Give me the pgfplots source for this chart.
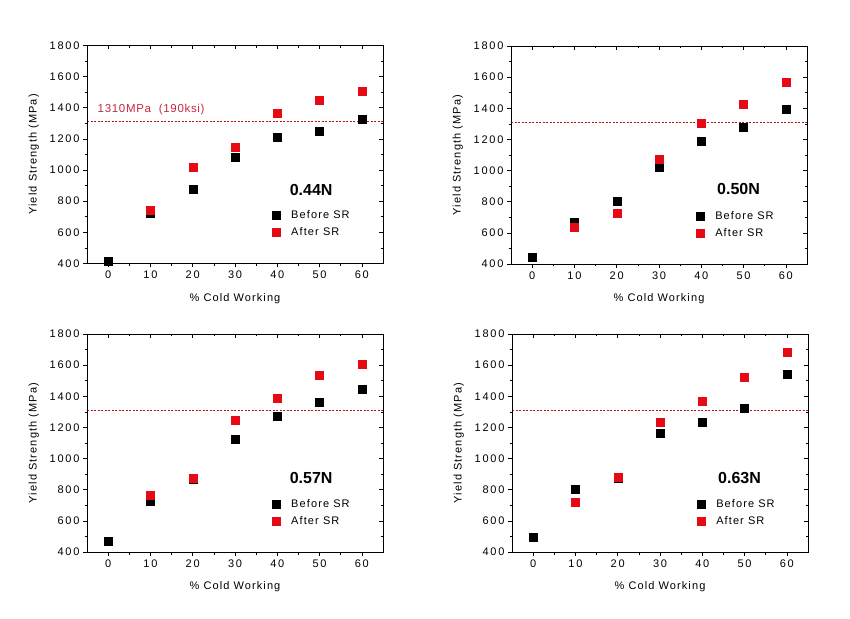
\documentclass[border=0pt]{standalone}
\usepackage{fontspec}
\setmainfont{Liberation Sans}[LetterSpace=10]
\newfontfamily\tickfont{Liberation Sans}[LetterSpace=16]
\newfontfamily\reffont{Liberation Sans}[LetterSpace=6]
\newfontfamily\plainfont{Liberation Sans}
\usepackage{pgfplots}
\pgfplotsset{compat=1.18}
\definecolor{srred}{RGB}{230,10,20}
\definecolor{refred}{RGB}{175,25,25}
\definecolor{lblred}{RGB}{195,40,60}

\tikzset{tag/.style={font=\plainfont\bfseries\fontsize{16}{16}\selectfont}}
\pgfplotsset{
  base/.style={scale only axis, width=296pt, height=218pt,
    xmin=-5, xmax=65, ymin=400, ymax=1800,
    xtick={0,10,...,60}, ytick={400,600,...,1800},
    minor x tick num=1, minor y tick num=1,
    major tick length=4pt, minor tick length=2.5pt,
    axis line style={line width=0.8pt},
    every tick/.style={black, line width=0.6pt}},
  panel/.style={base, tick align=outside, tick pos=left,
    tick label style={font=\tickfont\fontsize{11}{12}\selectfont},
    /pgf/number format/assume math mode=true,
    /pgf/number format/set thousands separator={},
    xlabel={\% Cold Working}, ylabel={Yield Strength (MPa)},
    label style={font=\fontsize{11}{12}\selectfont},
    xlabel style={at={(axis description cs:0.5,-0.16)}, anchor=center},
    ylabel style={at={(axis description cs:-0.18,0.5)}, anchor=center},
    legend style={draw=none, fill=none, at={(0.615,0.262)}, anchor=north west,
      font=\fontsize{11}{12}\selectfont, row sep=4pt, column sep=9pt},
    legend cell align=left},
  mirror/.style={base, tick align=inside, tick pos=right,
    xticklabels={}, yticklabels={}},
  refline/.style={draw=refred, color=refred, line width=0.7pt, dash pattern=on 2pt off 1.5pt},
  bk/.style={only marks, mark=square*, mark size=4pt, black, mark options={fill=black, draw=black}},
  rd/.style={only marks, mark=square*, mark size=4pt, srred, mark options={fill=srred, draw=srred}}
}

\begin{document}
\begin{tikzpicture}
\useasboundingbox (0,0) rectangle (850pt,618pt);

% Panel 1: 0.44N
\begin{axis}[panel, at={(87pt,354.6pt)}, anchor=south west]
\addplot[refline, forget plot] coordinates {(-5,1310) (65,1310)};
\addplot[bk] coordinates {(0,417) (10,725) (20,877) (30,1080) (40,1210) (50,1248) (60,1323)};
\addplot[rd] coordinates {(10,740) (20,1015) (30,1146) (40,1366) (50,1445) (60,1505)};
\legend{Before SR, After SR}
\node[tag] at (axis cs:48,874) {0.44N};
\node[anchor=west, text=lblred, font=\reffont\fontsize{11.5}{12}\selectfont] at (axis cs:-3.3,1388) {1310MPa\ \ (190ksi)};
\end{axis}
\begin{axis}[mirror, at={(87pt,354.6pt)}, anchor=south west]
\end{axis}

% Panel 2: 0.50N
\begin{axis}[panel, at={(511pt,354pt)}, anchor=south west]
\addplot[refline, forget plot] coordinates {(-5,1310) (65,1310)};
\addplot[bk] coordinates {(0,445) (10,671) (20,805) (30,1023) (40,1187) (50,1281) (60,1394)};
\addplot[rd] coordinates {(10,637) (20,727) (30,1070) (40,1303) (50,1424) (60,1567)};
\legend{Before SR, After SR}
\node[tag] at (axis cs:48.8,880) {0.50N};
\end{axis}
\begin{axis}[mirror, at={(511pt,354pt)}, anchor=south west]
\end{axis}

% Panel 3: 0.57N
\begin{axis}[panel, at={(87pt,66pt)}, anchor=south west]
\addplot[refline, forget plot] coordinates {(-5,1310) (65,1310)};
\addplot[bk] coordinates {(0,471) (10,725) (20,866) (30,1122) (40,1270) (50,1360) (60,1447)};
\addplot[rd] coordinates {(10,765) (20,877) (30,1248) (40,1389) (50,1533) (60,1606)};
\legend{Before SR, After SR}
\node[tag] at (axis cs:48,877) {0.57N};
\end{axis}
\begin{axis}[mirror, at={(87pt,66pt)}, anchor=south west]
\end{axis}

% Panel 4: 0.63N
\begin{axis}[panel, at={(512pt,66pt)}, anchor=south west]
\addplot[refline, forget plot] coordinates {(-5,1310) (65,1310)};
\addplot[bk] coordinates {(0,494) (10,804) (20,876) (30,1161) (40,1236) (50,1325) (60,1539)};
\addplot[rd] coordinates {(10,718) (20,881) (30,1236) (40,1368) (50,1524) (60,1680)};
\legend{Before SR, After SR}
\node[tag] at (axis cs:48.8,877) {0.63N};
\end{axis}
\begin{axis}[mirror, at={(512pt,66pt)}, anchor=south west]
\end{axis}
\end{tikzpicture}
\end{document}
